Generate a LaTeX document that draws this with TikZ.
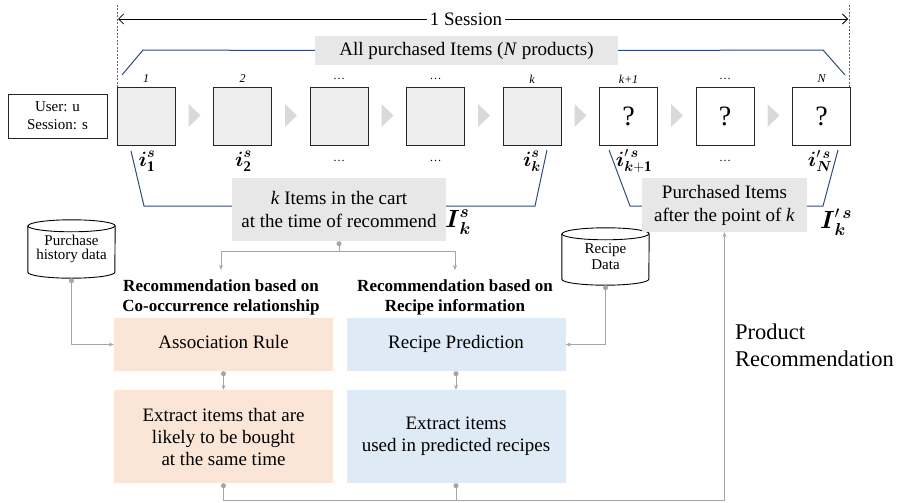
\documentclass[tikz,border=0pt]{standalone}
\usepackage{amsmath}
\usepackage{fontspec}
\setmainfont{Liberation Serif}
\usetikzlibrary{arrows.meta,calc,backgrounds}
\definecolor{boxgray}{HTML}{E7E7E7}
\definecolor{itemgray}{HTML}{EDEDED}
\definecolor{trigray}{HTML}{D9D9D9}
\definecolor{cgray}{HTML}{A6A6A6}
\definecolor{navy}{HTML}{2E4B7C}
\definecolor{orng}{HTML}{FBE5D6}
\definecolor{blu}{HTML}{DEEBF7}
\begin{document}
\begin{tikzpicture}[x=1pt,y=-1pt,
  graybox/.style={fill=boxgray, inner sep=0pt, align=center, font=\fontsize{19}{23}\selectfont},
  itembox/.style={draw=black!85, line width=0.8pt, minimum width=58pt, minimum height=58pt, inner sep=0pt, font=\fontsize{28}{30}\selectfont},
  numlab/.style={font=\fontsize{12}{14}\selectfont\itshape, inner sep=0pt},
  sublab/.style={font=\fontsize{21}{24}\selectfont, inner sep=0pt},
  dotlab/.style={font=\fontsize{12}{14}\selectfont, inner sep=0pt},
  procbox/.style={inner sep=0pt, minimum width=219pt, align=center, font=\fontsize{19}{22}\selectfont},
  head/.style={align=center, inner sep=0pt, font=\fontsize{17}{20}\selectfont\bfseries},
  cylnode/.style={inner sep=0pt, minimum width=87pt, align=center, font=\fontsize{15}{18}\selectfont},
  conn/.style={draw=cgray, line width=1pt},
  dotarr/.style={conn, {Circle[length=5pt]}-{Stealth[length=5pt,width=4pt]}},
  dotline/.style={conn, {Circle[length=5pt]}-},
  plainarr/.style={conn, -{Stealth[length=5pt,width=4pt]}},
  brk/.style={draw=navy, line width=1pt}
]
\useasboundingbox (0,0) rectangle (900,503);

% session extent
\draw[black!60, line width=0.6pt, dash pattern=on 2pt off 1.5pt] (117,5) -- (117,87);
\draw[black!60, line width=0.6pt, dash pattern=on 2pt off 1.5pt] (849,5) -- (849,87);
\coordinate (sl) at (118,19);
\coordinate (sr) at (848,19);
\draw[line width=0.8pt, {Straight Barb[length=5pt]}-{Straight Barb[length=5pt]}] (sl) -- (sr);
\node[fill=white, inner sep=3pt, font=\fontsize{19}{22}\selectfont] (sess) at (466,19) {1 Session};

% all purchased
\node[graybox, minimum width=303pt, minimum height=29pt] (ap) at (466.5,50.5) {All purchased Items (\textit{N} products)};
\draw[brk] (122,75) -- (143,50) -- (ap.west);
\draw[brk] (ap.east) -- (823,50) -- (845,75);

% user box
\node[draw=black!85, line width=0.8pt, minimum width=99pt, minimum height=44pt, inner sep=0pt, align=center, font=\fontsize{15}{18}\selectfont] (user) at (57.5,116) {User: u\\Session: s};

% item boxes
\node[itembox, fill=itemgray] (b1) at (146,116) {};
\node[itembox, fill=itemgray] (b2) at (242.5,116) {};
\node[itembox, fill=itemgray] (b3) at (339,116) {};
\node[itembox, fill=itemgray] (b4) at (435.5,116) {};
\node[itembox, fill=itemgray] (b5) at (532,116) {};
\node[itembox, fill=white] (b6) at (628.5,116) {?};
\node[itembox, fill=white] (b7) at (725,116) {?};
\node[itembox, fill=white] (b8) at (821.5,116) {?};

\foreach \i in {0,...,6}{
  \fill[trigray] ({188.5+96.5*\i},104) -- ({200.5+96.5*\i},115.5) -- ({188.5+96.5*\i},127) -- cycle;
}

% number labels
\node[numlab] (n1) at (146,79) {1};
\node[numlab] (n2) at (242.5,79) {2};
\node[numlab] (n3) at (339,79) {\normalfont\dots};
\node[numlab] (n4) at (435.5,79) {\normalfont\dots};
\node[numlab] (n5) at (532,79) {k};
\node[numlab] (n6) at (628.5,79) {k+1};
\node[numlab] (n7) at (725,79) {\normalfont\dots};
\node[numlab] (n8) at (821.5,79) {N};

% sub labels
\node[sublab] (s1) at (147,161) {$\boldsymbol{i}_{\mathbf 1}^{\boldsymbol s}$};
\node[sublab] (s2) at (243.5,161) {$\boldsymbol{i}_{\mathbf 2}^{\boldsymbol s}$};
\node[dotlab] (s3) at (339,161) {\dots};
\node[dotlab] (s4) at (435.5,161) {\dots};
\node[sublab] (s5) at (532,161) {$\boldsymbol{i}_{\boldsymbol k}^{\boldsymbol s}$};
\node[sublab] (s6) at (634,161) {$\boldsymbol{i}'^{\,\boldsymbol s}_{\boldsymbol{k}\mathbf{+1}}$};
\node[dotlab] (s7) at (725,161) {\dots};
\node[sublab] (s8) at (820,161) {$\boldsymbol{i}'^{\,\boldsymbol s}_{\boldsymbol N}$};

% k items box
\node[graybox, minimum width=214pt, minimum height=63pt] (ki) at (339,209.5) {\textit{k} Items in the cart\\at the time of recommend};
\draw[brk] (131,151) -- (144,206) -- (ki.west |- 0,206);
\draw[brk] (ki.east |- 0,206) -- (535,206) -- (547,150);
\node[inner sep=0pt, font=\fontsize{26}{28}\selectfont] (Ik) at (458,222) {$\boldsymbol{I}_{\boldsymbol k}^{\boldsymbol s}$};

% purchased after k
\node[graybox, minimum width=165pt, minimum height=54pt] (pi) at (724.5,205) {Purchased Items\\after the point of \textit{k}};
\draw[brk] (609,150) -- (630,206) -- (pi.west |- 0,206);
\draw[brk] (pi.east |- 0,206) -- (823,206) -- (838,150);
\node[inner sep=0pt, font=\fontsize{26}{28}\selectfont] (Ipk) at (836,222) {$\boldsymbol{I}'^{\,\boldsymbol s}_{\boldsymbol k}$};

% cylinders
\node[cylnode, minimum height=58pt] (ph) at (71.5,249) {\raisebox{-6pt}{\shortstack{Purchase\\history data}}};
\node[cylnode, minimum height=57pt] (rd) at (605.5,256.5) {\raisebox{-6pt}{\shortstack{Recipe\\Data}}};
\begin{scope}[on background layer]
\foreach \c in {ph,rd}{
\draw[line width=0.9pt, fill=white] ([yshift=-6pt]\c.north west) -- ([yshift=6pt]\c.south west)
   arc[start angle=180, end angle=360, x radius=43.5pt, y radius=6pt]
   -- ([yshift=-6pt]\c.north east)
   arc[start angle=0, end angle=180, x radius=43.5pt, y radius=6pt] -- cycle;
\draw[line width=0.9pt] ([yshift=-6pt]\c.north west) arc[start angle=180, end angle=360, x radius=43.5pt, y radius=6pt];
}
\end{scope}

% headers
\node[head] (h1) at (221,297) {Recommendation based on\\Co-occurrence relationship};
\node[head] (h2) at (455,297) {Recommendation based on\\Recipe information};

% process boxes
\node[procbox, fill=orng, minimum height=53pt] (ar) at (223.5,344.5) {Association Rule\strut};
\node[procbox, fill=blu, minimum height=53pt] (rp) at (456,344.5) {Recipe Prediction\strut};
\node[procbox, fill=orng, minimum height=93pt] (e1) at (223.5,436.5) {Extract items that are\\likely to be bought\\at the same time};
\node[procbox, fill=blu, minimum height=93pt] (e2) at (456,436.5) {Extract items\\used in predicted recipes};

% connectors
\coordinate (kj) at (339,251);
\coordinate (t1) at (221,270);
\coordinate (t2) at (455,270);
\draw[dotline] (ki.south) -- (kj);
\draw[plainarr] (kj) -| (t1);
\draw[plainarr] (kj) -| (t2);

\draw[dotarr] (ph.south) |- (ar.west);
\draw[dotarr] (rd.south) |- (rp.east);
\draw[dotarr] (ar.south) -- (e1.north);
\draw[dotarr] (rp.south) -- (e2.north);

\coordinate (bot) at (0,500);
\draw[dotarr] (e1.south) |- (pi.south |- bot) -- (pi.south);
\draw[dotline] (e2.south) -- (e2.south |- bot);

\node[anchor=north west, align=left, inner sep=0pt, font=\fontsize{22.5}{27}\selectfont] (prec) at (735,324) {Product\\Recommendation};
\end{tikzpicture}
\end{document}
